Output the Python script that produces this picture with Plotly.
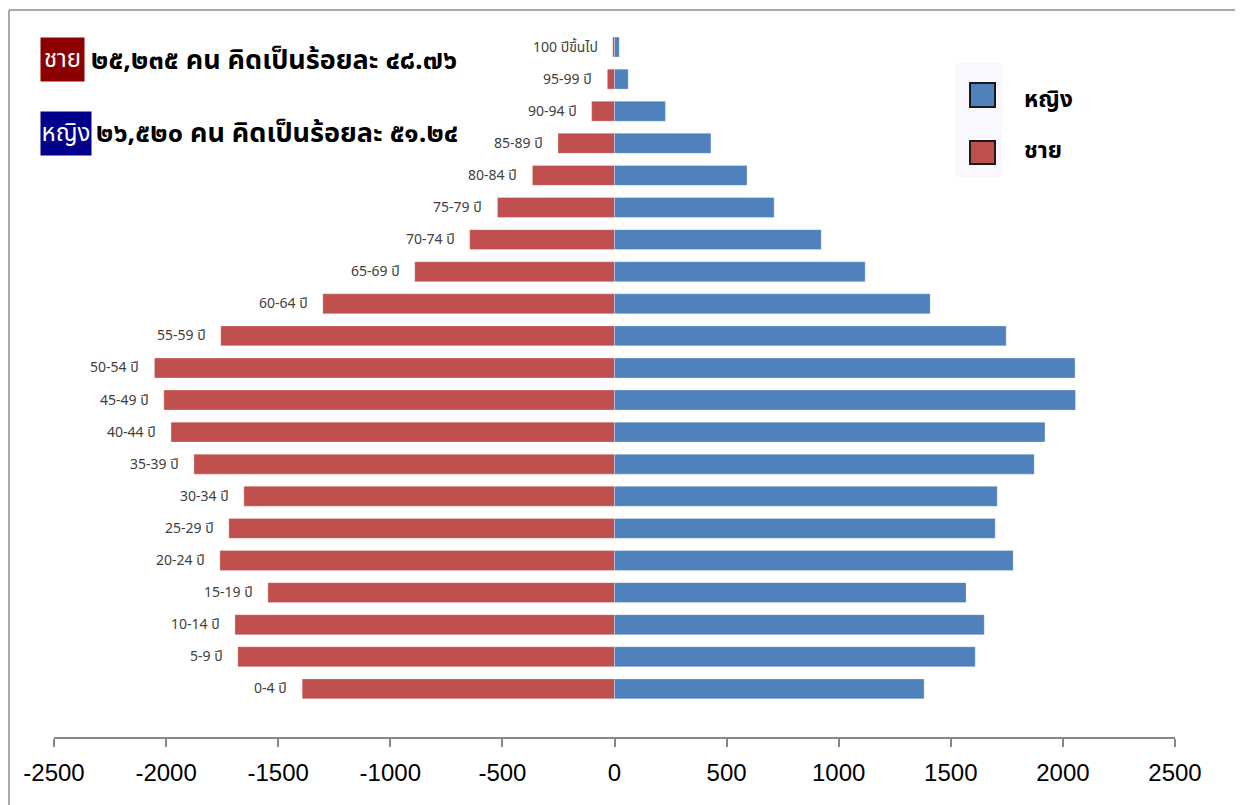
import plotly.graph_objects as go

# ---- data ----
age_groups = ["0-4 ปี", "5-9 ปี", "10-14 ปี", "15-19 ปี", "20-24 ปี", "25-29 ปี",
              "30-34 ปี", "35-39 ปี", "40-44 ปี", "45-49 ปี", "50-54 ปี", "55-59 ปี",
              "60-64 ปี", "65-69 ปี", "70-74 ปี", "75-79 ปี", "80-84 ปี", "85-89 ปี",
              "90-94 ปี", "95-99 ปี", "100 ปีขึ้นไป"]
male = [1393, 1680, 1693, 1546, 1760, 1720, 1653, 1876, 1978, 2010, 2052, 1756,
        1301, 891, 646, 522, 366, 252, 102, 32, 8]
female = [1381, 1609, 1649, 1568, 1778, 1698, 1707, 1872, 1920, 2056, 2054, 1747,
          1408, 1118, 922, 712, 591, 430, 227, 61, 21]
x_ticks = [-2500, -2000, -1500, -1000, -500, 0, 500, 1000, 1500, 2000, 2500]
male_name = "ชาย"
female_name = "หญิง"
male_summary = "๒๕,๒๓๕ คน คิดเป็นร้อยละ ๔๘.๗๖"
female_summary = "๒๖,๕๒๐ คน คิดเป็นร้อยละ ๕๑.๒๔"

RED = "#C0504D"
BLUE = "#4F81BD"
THAI = "Tahoma, 'Noto Sans Thai', 'Loma', 'Garuda', 'Liberation Sans', sans-serif"

# page is rendered with an 8px body margin -> work in page pixels, subtract offset
OFF = 8
W, H = 1243 - OFF, 805 - OFF
PLOT_L, PLOT_R, PLOT_T, PLOT_B = 54, 1175, 31, 737   # page pixels
ML = PLOT_L - OFF
MT = PLOT_T - OFF
MR = W - (PLOT_R - OFF)
MB = H - (PLOT_B - OFF)
PW, PH = PLOT_R - PLOT_L, PLOT_B - PLOT_T


def px(xp):
    return (xp - PLOT_L) / PW


def py(yp):
    return (PLOT_B - yp) / PH


male_neg = [-v for v in male]

fig = go.Figure()
fig.add_trace(go.Bar(
    y=age_groups, x=male_neg, orientation="h", name=male_name,
    marker=dict(color=RED, line=dict(color="rgba(255,255,255,0.45)", width=0.6)),
    customdata=male, hovertemplate="%{y}: %{customdata}<extra>ชาย</extra>",
    showlegend=False,
))
fig.add_trace(go.Bar(
    y=age_groups, x=female, orientation="h", name=female_name,
    marker=dict(color=BLUE, line=dict(color="rgba(255,255,255,0.45)", width=0.6)),
    hovertemplate="%{y}: %{x}<extra>หญิง</extra>",
    showlegend=False,
))

annotations = []
for g, v in zip(age_groups, male_neg):
    annotations.append(dict(
        x=v, y=g, xref="x", yref="y", text=g, showarrow=False,
        xanchor="right", yanchor="middle", xshift=-13,
        font=dict(family=THAI, size=14, color="#404040"),
    ))

# headline boxes
annotations += [
    dict(x=px(40), y=py(59), xref="paper", yref="paper", text=male_name,
         showarrow=False, xanchor="left", yanchor="middle", width=43, height=43,
         bgcolor="#8B0000", borderpad=0,
         font=dict(family=THAI, size=24, color="white")),
    dict(x=px(89), y=py(60), xref="paper", yref="paper", text="<b>" + male_summary + "</b>",
         showarrow=False, xanchor="left", yanchor="middle", bgcolor="white",
         font=dict(family=THAI, size=27, color="black")),
    dict(x=px(40), y=py(133), xref="paper", yref="paper", text=female_name,
         showarrow=False, xanchor="left", yanchor="middle", width=50, height=43,
         bgcolor="#00008B", borderpad=0,
         font=dict(family=THAI, size=24, color="white")),
    dict(x=px(94), y=py(134), xref="paper", yref="paper", text="<b>" + female_summary + "</b>",
         showarrow=False, xanchor="left", yanchor="middle", bgcolor="white",
         font=dict(family=THAI, size=27, color="black")),
    # custom legend labels
    dict(x=px(1022), y=py(100), xref="paper", yref="paper", text="<b>" + female_name + "</b>",
         showarrow=False, xanchor="left", yanchor="middle",
         font=dict(family=THAI, size=23, color="black")),
    dict(x=px(1022), y=py(151), xref="paper", yref="paper", text="<b>" + male_name + "</b>",
         showarrow=False, xanchor="left", yanchor="middle",
         font=dict(family=THAI, size=23, color="black")),
]

shapes = [
    # outer chart border (kept inside the drawable figure area)
    dict(type="line", xref="paper", yref="paper", x0=px(9), x1=px(1238), y0=py(10), y1=py(10),
         line=dict(color="#8C8C8C", width=1.5), layer="below"),
    dict(type="line", xref="paper", yref="paper", x0=px(9), x1=px(9), y0=py(10), y1=py(805),
         line=dict(color="#8C8C8C", width=1.5), layer="below"),
    dict(type="line", xref="paper", yref="paper", x0=px(1237), x1=px(1237), y0=py(10), y1=py(805),
         line=dict(color="#8C8C8C", width=1.5), layer="below"),
    # legend background
    dict(type="rect", xref="paper", yref="paper", x0=px(955), x1=px(1003), y0=py(177), y1=py(63),
         line=dict(width=0), fillcolor="#F8F8FE", layer="below"),
    dict(type="rect", xref="paper", yref="paper", x0=px(970), x1=px(995), y0=py(107), y1=py(83),
         line=dict(color="#1a1a1a", width=2), fillcolor=BLUE),
    dict(type="rect", xref="paper", yref="paper", x0=px(970), x1=px(995), y0=py(164), y1=py(141),
         line=dict(color="#1a1a1a", width=2), fillcolor=RED),
]

fig.update_layout(
    width=W, height=H,
    margin=dict(l=ML, r=MR, t=MT, b=MB),
    paper_bgcolor="white", plot_bgcolor="white",
    barmode="overlay", bargap=0.38,
    showlegend=False,
    annotations=annotations, shapes=shapes,
    xaxis=dict(
        range=[-2500, 2500], tickvals=x_ticks, ticktext=[str(t) for t in x_ticks],
        showgrid=False, zeroline=False, showline=True, linecolor="#868686", linewidth=1.5,
        ticks="outside", ticklen=8, tickcolor="#868686", tickwidth=1.5,
        ticklabelstandoff=5,
        tickfont=dict(family="'Liberation Sans', Arial, sans-serif", size=24, color="black"),
        fixedrange=True,
    ),
    yaxis=dict(
        categoryorder="array", categoryarray=age_groups, type="category",
        range=[-1.5, 20.5], showticklabels=False, showgrid=False, zeroline=False,
        showline=False, ticks="", fixedrange=True,
    ),
)

fig.write_html("out.html")
